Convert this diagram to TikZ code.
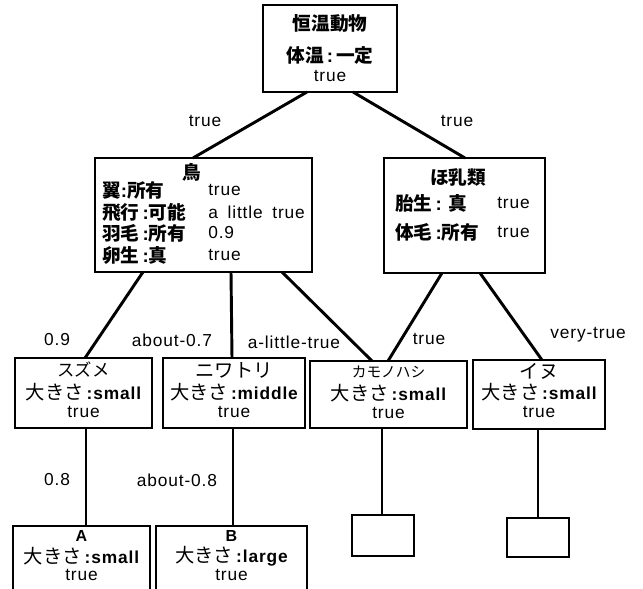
\documentclass[tikz,border=0pt]{standalone}
\usepackage{fontspec}
\setmainfont[LetterSpace=5]{Liberation Sans}
\newfontfamily\jp{Noto Sans CJK JP}
\usetikzlibrary{calc}
\tikzset{
  px/.style={x=0.75pt,y=-0.75pt},
  box/.style={draw,line width=1.8pt,inner sep=0pt,outer sep=0pt,fill=white},
  sz/.style 2 args={minimum width=#1*0.75pt,minimum height=#2*0.75pt},
  conn/.style={line width=2.2pt},
  lab/.style={font=\fontsize{13}{15}\selectfont,inner sep=0pt},
  jt/.style={font=\fontsize{14}{16}\selectfont\jp\bfseries,inner sep=0pt},
  jr/.style={font=\fontsize{13}{15}\selectfont,inner sep=0pt},
}
\newcommand{\jsz}{\fontsize{14.5}{16}\selectfont\jp}
\newcommand{\col}{{\rmfamily\bfseries\,:}}
\begin{document}
\begin{tikzpicture}[px]
\useasboundingbox (0,0) rectangle (643,589);
\clip (0,0) rectangle (643,589);
\fill[white] (0,0) rectangle (643,589);
% boxes
\node[box,sz={134}{87}] (top) at (330,48.5) {};
\node[box,sz={217}{114}] (bird) at (203.5,215) {};
\node[box,sz={161}{115}] (mam) at (464.5,215.5) {};
\node[box,sz={137}{70}] (suz) at (83.5,393) {};
\node[box,sz={142}{70}] (niw) at (234,393) {};
\node[box,sz={157}{67}] (kamo) at (388.5,394.5) {};
\node[box,sz={132}{69}] (inu) at (539,394.5) {};
\node[box,sz={137}{70}] (A) at (81.5,561) {};
\node[box,sz={151}{70}] (B) at (231.5,561) {};
\node[box,sz={62}{41}] (e1) at (383,535.5) {};
\node[box,sz={62}{39}] (e2) at (538,537.5) {};
% connectors
\draw[conn] ($(top.south west)+(44,0)$) -- ($(bird.north west)+(98,0)$);
\draw[conn] ($(top.south west)+(90,0)$) -- ($(mam.north west)+(81,0)$);
\draw[conn] ($(bird.south west)+(48,0)$) -- ($(suz.north west)+(70,0)$);
\draw[conn] ($(bird.south west)+(136,0)$) -- ($(niw.north west)+(69,0)$);
\draw[conn] ($(bird.south west)+(187,0)$) -- ($(kamo.north west)+(62,0)$);
\draw[conn] ($(mam.south west)+(58,0)$) -- ($(kamo.north west)+(78,0)$);
\draw[conn] ($(mam.south west)+(96,0)$) -- ($(inu.north west)+(69,0)$);
\draw[conn] ($(suz.south west)+(71,0)$) -- ($(A.north west)+(73,0)$);
\draw[conn] ($(niw.south west)+(70,0)$) -- ($(B.north west)+(77,0)$);
\draw[conn] ($(kamo.south west)+(72,0)$) -- ($(e1.north west)+(30,0)$);
\draw[conn] ($(inu.south west)+(65,0)$) -- ($(e2.north west)+(31,0)$);
% top box text
\node[jt] (t1) at (330,23) {恒温動物};
\node[jt] (t2) at (330,55) {体温\col\,一定};
\node[lab] (t3) at (330,76) {true};
% bird
\node[jt] (b0) at (192,172) {鳥};
\node[jt,anchor=west] (b1) at (102,190) {翼{\rmfamily\bfseries :}所有};
\node[jt,anchor=west] (b2) at (102,212) {飛行\col 可能};
\node[jt,anchor=west] (b3) at (102,233) {羽毛\col 所有};
\node[jt,anchor=west] (b4) at (102,255) {卵生\col 真};
\node[lab,anchor=west] (b1v) at (208,190) {true};
\node[lab,anchor=west] (b2v) at (208,212) {a\hspace{3pt} little\hspace{3pt} true};
\node[lab,anchor=west] (b3v) at (208,233) {0.9};
\node[lab,anchor=west] (b4v) at (208,255) {true};
% mammal
\node[jt] (m0) at (458,177) {ほ乳類};
\node[jt,anchor=west] (m1) at (395,203) {胎生\col\,\,真};
\node[jt,anchor=west] (m2) at (395,232) {体毛\col 所有};
\node[lab,anchor=west] (m1v) at (497,203) {true};
\node[lab,anchor=west] (m2v) at (497,232) {true};
% row 2
\node[jr] (s0) at (83.5,370) {\fontsize{13}{15}\selectfont\jp スズメ};
\node[jr] (s1) at (83.5,392) {{\jsz 大きさ}\,{\bfseries :small}};
\node[lab] (s2) at (83.5,412) {true};
\node[jr] (n0) at (234,370) {\jsz ニワトリ};
\node[jr] (n1) at (234,392) {{\jsz 大きさ}\,{\bfseries :middle}};
\node[lab] (n2) at (234,412) {true};
\node[jr] (k0) at (388.5,372) {\fontsize{11}{13}\selectfont\jp カモノハシ};
\node[jr] (k1) at (388.5,393) {{\jsz 大きさ}\,{\bfseries :small}};
\node[lab] (k2) at (388.5,413) {true};
\node[jr] (i0) at (539,371) {\jsz イヌ};
\node[jr] (i1) at (539,392) {{\jsz 大きさ}\,{\bfseries :small}};
\node[lab] (i2) at (539,412) {true};
% row 3
\node[jr,font=\fontsize{12}{14}\selectfont\bfseries] (a0) at (81.5,536) {A};
\node[jr] (a1) at (81.5,556) {{\jsz 大きさ}\,{\bfseries :small}};
\node[lab] (a2) at (81.5,575) {true};
\node[jr,font=\fontsize{12}{14}\selectfont\bfseries] (bb0) at (231.5,536) {B};
\node[jr] (bb1) at (231.5,556) {{\jsz 大きさ}\,{\bfseries :large}};
\node[lab] (bb2) at (231.5,575) {true};
% edge labels
\node[lab] (l1) at (205,121) {true};
\node[lab] (l2) at (457,121) {true};
\node[lab] (l3) at (57,340) {0.9};
\node[lab] (l4) at (172,340) {about-0.7};
\node[lab] (l5) at (294,342) {a-little-true};
\node[lab] (l6) at (429,339) {true};
\node[lab] (l7) at (588,335) {very-true};
\node[lab] (l8) at (57,480) {0.8};
\node[lab] (l9) at (177,480) {about-0.8};
\end{tikzpicture}
\end{document}
